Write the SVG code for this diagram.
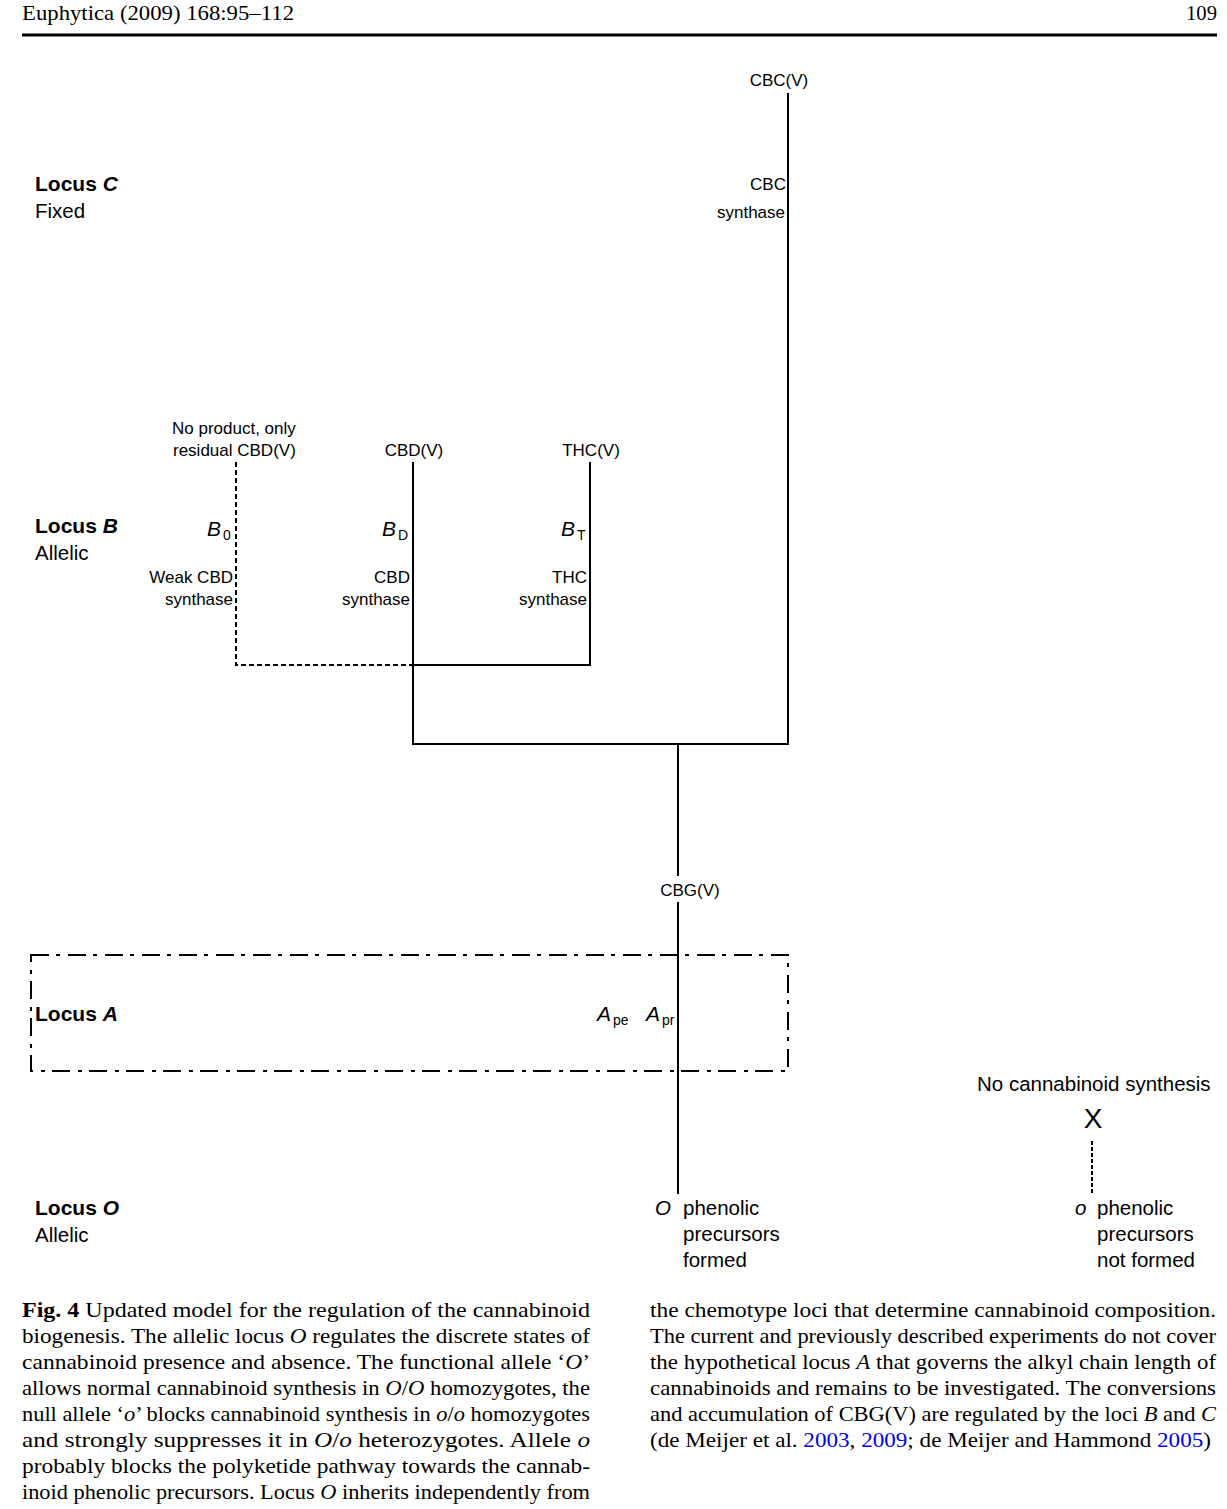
<svg xmlns="http://www.w3.org/2000/svg" width="1227" height="1509" viewBox="0 0 1227 1509">
<style>
.s{font-family:"Liberation Sans",Arial,sans-serif;fill:#000}
.t17{font-size:17px}
.t20{font-size:20.5px}
.loc{font-size:21px;font-weight:bold}
.i{font-style:italic}
.sub{font-size:14px}
.serif{font-family:"Liberation Serif","Times New Roman",serif;font-size:22px;fill:#000}
.ln{stroke:#000;stroke-width:2;fill:none}
.dash{stroke:#000;stroke-width:2;fill:none;stroke-dasharray:5 3}
.dd{stroke:#000;stroke-width:2;fill:none;stroke-dasharray:18 7 4 8}
.link{fill:#0000ee}
</style>
<rect width="1227" height="1509" fill="#fff"/>
<g id="header">
<text class="serif" x="22" y="20" textLength="272" lengthAdjust="spacingAndGlyphs">Euphytica (2009) 168:95–112</text>
<text class="serif" x="1186" y="20" textLength="31" lengthAdjust="spacingAndGlyphs">109</text>
<line x1="22" y1="35" x2="1217" y2="35" stroke="#000" stroke-width="3"/>
</g>
<g id="connectors">
<line class="ln" x1="788" y1="93" x2="788" y2="745"/>
<polyline class="ln" points="413,462 413,744 788,744"/>
<polyline class="ln" points="413,665 590,665 590,462"/>
<polyline class="dash" points="236,462 236,665 413,665"/>
<line class="ln" x1="678" y1="744" x2="678" y2="876"/>
<line class="ln" x1="678" y1="902" x2="678" y2="1194"/>
<line x1="1092" y1="1141" x2="1092" y2="1195" stroke="#000" stroke-width="2" stroke-dasharray="4 2"/>
</g>
<g id="locusA-box">
<rect class="dd" x="31" y="955" width="757" height="116"/>
</g>
<g id="locusC">
<text class="s loc" x="35" y="191">Locus <tspan class="i">C</tspan></text>
<text class="s t20" x="35" y="218">Fixed</text>
</g>
<g id="locusB">
<text class="s loc" x="35" y="533">Locus <tspan class="i">B</tspan></text>
<text class="s t20" x="35" y="560">Allelic</text>
</g>
<g id="locusA">
<text class="s loc" x="35" y="1021">Locus <tspan class="i">A</tspan></text>
</g>
<g id="locusO">
<text class="s loc" x="35" y="1215">Locus <tspan class="i">O</tspan></text>
<text class="s t20" x="35" y="1242">Allelic</text>
</g>
<g id="node-cbcv">
<text class="s t17" x="779" y="86" text-anchor="middle">CBC(V)</text>
</g>
<g id="node-cbc-synthase">
<text class="s t17" x="786" y="190" text-anchor="end">CBC</text>
<text class="s t17" x="785" y="218" text-anchor="end">synthase</text>
</g>
<g id="node-noproduct">
<text class="s t17" x="172" y="434">No product, only</text>
<text class="s t17" x="173" y="456">residual CBD(V)</text>
</g>
<g id="node-cbdv">
<text class="s t17" x="414" y="456" text-anchor="middle">CBD(V)</text>
</g>
<g id="node-thcv">
<text class="s t17" x="591" y="456" text-anchor="middle">THC(V)</text>
</g>
<g id="node-b0">
<text class="s i" font-size="21" x="207" y="536">B</text>
<text class="s sub" x="223" y="540">0</text>
<text class="s t17" x="233" y="583" text-anchor="end">Weak CBD</text>
<text class="s t17" x="233" y="605" text-anchor="end">synthase</text>
</g>
<g id="node-bd">
<text class="s i" font-size="21" x="382" y="536">B</text>
<text class="s sub" x="398" y="540">D</text>
<text class="s t17" x="410" y="583" text-anchor="end">CBD</text>
<text class="s t17" x="410" y="605" text-anchor="end">synthase</text>
</g>
<g id="node-bt">
<text class="s i" font-size="21" x="561" y="536">B</text>
<text class="s sub" x="577" y="540">T</text>
<text class="s t17" x="587" y="583" text-anchor="end">THC</text>
<text class="s t17" x="587" y="605" text-anchor="end">synthase</text>
</g>
<g id="node-cbgv">
<text class="s t17" x="690" y="896" text-anchor="middle">CBG(V)</text>
</g>
<g id="node-a">
<text class="s i" font-size="21" x="597" y="1021">A</text>
<text class="s sub" x="613" y="1025">pe</text>
<text class="s i" font-size="21" x="646" y="1021">A</text>
<text class="s sub" x="662" y="1025">pr</text>
</g>
<g id="node-O">
<text class="s t20 i" x="655" y="1215">O</text>
<text class="s t20" x="683" y="1215">phenolic</text>
<text class="s t20" x="683" y="1241">precursors</text>
<text class="s t20" x="683" y="1267">formed</text>
</g>
<g id="node-nosynth">
<text class="s t20" x="977" y="1091">No cannabinoid synthesis</text>
<text class="s" x="1093" y="1128" font-size="28" text-anchor="middle">X</text>
</g>
<g id="node-o">
<text class="s t20 i" x="1075" y="1215">o</text>
<text class="s t20" x="1097" y="1215">phenolic</text>
<text class="s t20" x="1097" y="1241">precursors</text>
<text class="s t20" x="1097" y="1267">not formed</text>
</g>
<g id="caption">
<text class="serif" x="22" y="1317" textLength="568" lengthAdjust="spacingAndGlyphs"><tspan font-weight="bold">Fig. 4</tspan>  Updated model for the regulation of the cannabinoid</text>
<text class="serif" x="22" y="1343" textLength="568" lengthAdjust="spacingAndGlyphs">biogenesis. The allelic locus <tspan font-style="italic">O</tspan> regulates the discrete states of</text>
<text class="serif" x="22" y="1369" textLength="568" lengthAdjust="spacingAndGlyphs">cannabinoid presence and absence. The functional allele ‘<tspan font-style="italic">O</tspan>’</text>
<text class="serif" x="22" y="1395" textLength="568" lengthAdjust="spacingAndGlyphs">allows normal cannabinoid synthesis in <tspan font-style="italic">O</tspan>/<tspan font-style="italic">O</tspan> homozygotes, the</text>
<text class="serif" x="22" y="1421" textLength="568" lengthAdjust="spacingAndGlyphs">null allele ‘<tspan font-style="italic">o</tspan>’ blocks cannabinoid synthesis in <tspan font-style="italic">o</tspan>/<tspan font-style="italic">o</tspan> homozygotes</text>
<text class="serif" x="22" y="1447" textLength="568" lengthAdjust="spacingAndGlyphs">and strongly suppresses it in <tspan font-style="italic">O</tspan>/<tspan font-style="italic">o</tspan> heterozygotes. Allele <tspan font-style="italic">o</tspan></text>
<text class="serif" x="22" y="1473" textLength="568" lengthAdjust="spacingAndGlyphs">probably blocks the polyketide pathway towards the cannab-</text>
<text class="serif" x="22" y="1499" textLength="568" lengthAdjust="spacingAndGlyphs">inoid phenolic precursors. Locus <tspan font-style="italic">O</tspan> inherits independently from</text>
<text class="serif" x="650" y="1317" textLength="566" lengthAdjust="spacingAndGlyphs">the chemotype loci that determine cannabinoid composition.</text>
<text class="serif" x="650" y="1343" textLength="566" lengthAdjust="spacingAndGlyphs">The current and previously described experiments do not cover</text>
<text class="serif" x="650" y="1369" textLength="566" lengthAdjust="spacingAndGlyphs">the hypothetical locus <tspan font-style="italic">A</tspan> that governs the alkyl chain length of</text>
<text class="serif" x="650" y="1395" textLength="566" lengthAdjust="spacingAndGlyphs">cannabinoids and remains to be investigated. The conversions</text>
<text class="serif" x="650" y="1421" textLength="566" lengthAdjust="spacingAndGlyphs">and accumulation of CBG(V) are regulated by the loci <tspan font-style="italic">B</tspan> and <tspan font-style="italic">C</tspan></text>
<text class="serif" x="650" y="1447" textLength="561" lengthAdjust="spacingAndGlyphs">(de Meijer et al. <tspan class="link">2003</tspan>, <tspan class="link">2009</tspan>; de Meijer and Hammond <tspan class="link">2005</tspan>)</text>
</g>
</svg>
